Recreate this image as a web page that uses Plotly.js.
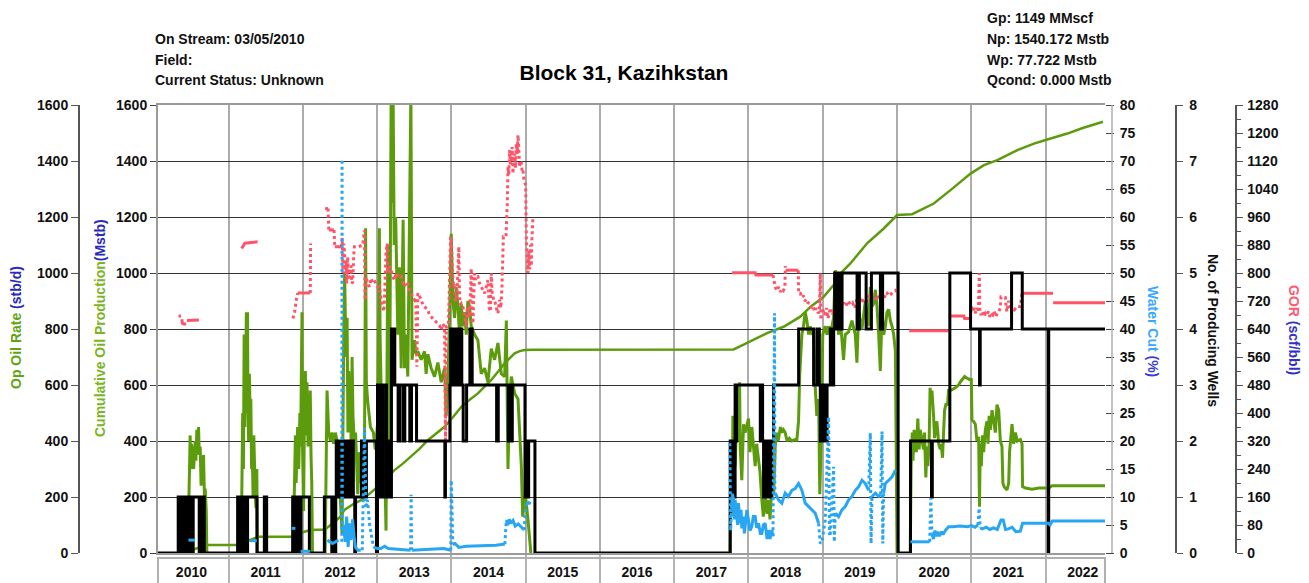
<!DOCTYPE html>
<html>
<head>
<meta charset="utf-8">
<script src="https://cdn.plot.ly/plotly-3.0.1.min.js"></script>
<style>html,body{margin:0;padding:0;background:#fff;}#chart{width:1309px;height:583px;}</style>
</head>
<body>
<div id="chart"></div>
<script>
// ---------------- DATA (decimal years) ----------------
const yearLabels = ['2010','2011','2012','2013','2014','2015','2016','2017','2018','2019','2020','2021','2022'];
const yearStarts = [2011,2012,2013,2014,2015,2016,2017,2018,2019,2020,2021,2022];
const yearMids = [2010.5,2011.5,2012.5,2013.5,2014.5,2015.5,2016.5,2017.5,2018.5,2019.5,2020.5,2021.5,2022.5];

// Oil rate, stb/d
const oilRate = [
[2010.452,0],[2010.46,150],[2010.47,250],[2010.483,420],[2010.49,300],[2010.50,390],[2010.51,330],[2010.52,380],[2010.53,300],[2010.54,370],[2010.55,400],[2010.56,330],[2010.573,440],[2010.58,360],[2010.596,450],[2010.605,350],[2010.618,380],[2010.63,240],[2010.64,330],[2010.65,250],[2010.663,350],[2010.675,200],[2010.685,230],[2010.70,150],[2010.708,0],[2010.709,null],
[2011.17,0],[2011.18,250],[2011.19,500],[2011.20,300],[2011.21,780],[2011.22,450],[2011.23,640],[2011.24,860],[2011.25,500],[2011.255,860],[2011.26,600],[2011.27,400],[2011.28,640],[2011.29,500],[2011.30,550],[2011.31,300],[2011.32,350],[2011.33,200],[2011.34,420],[2011.36,200],[2011.37,160],[2011.38,300],[2011.39,0],[2011.391,null],
[2011.87,0],[2011.88,200],[2011.90,420],[2011.91,250],[2011.92,380],[2011.93,450],[2011.945,300],[2011.96,500],[2011.97,380],[2011.98,700],[2011.989,860],[2011.995,400],[2012.0,300],[2012.01,150],[2012.02,450],[2012.034,650],[2012.045,420],[2012.056,610],[2012.07,380],[2012.08,550],[2012.095,430],[2012.10,580],[2012.11,350],[2012.12,250],[2012.13,0],[2012.131,null],
[2012.30,0],[2012.326,580],[2012.348,430],[2012.371,400],[2012.393,430],[2012.416,390],[2012.438,430],[2012.461,400],[2012.483,370],[2012.506,190],[2012.528,70],[2012.551,780],[2012.563,1000],[2012.58,700],[2012.596,840],[2012.607,430],[2012.618,650],[2012.630,480],[2012.640,550],[2012.652,370],[2012.663,700],[2012.675,490],[2012.694,390],[2012.71,430],[2012.739,210],[2012.76,360],[2012.784,250],[2012.81,380],[2012.829,310],[2012.845,1160],[2012.855,610],[2012.874,540],[2012.91,450],[2012.95,430],[2012.975,370],[2013.009,470],[2013.03,1160],[2013.04,780],[2013.065,430],[2013.085,550],[2013.12,80],[2013.144,1100],[2013.165,300],[2013.189,1650],[2013.20,1250],[2013.215,1650],[2013.23,1100],[2013.25,1200],[2013.279,780],[2013.30,1020],[2013.324,660],[2013.35,1190],[2013.369,660],[2013.39,780],[2013.40,720],[2013.413,630],[2013.455,1650],[2013.47,690],[2013.503,760],[2013.525,710],[2013.548,720],[2013.593,690],[2013.638,720],[2013.66,640],[2013.683,710],[2013.728,660],[2013.773,630],[2013.818,680],[2013.863,610],[2013.908,660],[2013.93,490],[2013.953,610],[2013.975,840],[2013.998,1140],[2014.02,900],[2014.043,840],[2014.065,950],[2014.088,880],[2014.11,780],[2014.133,890],[2014.155,810],[2014.178,860],[2014.20,780],[2014.222,900],[2014.245,880],[2014.267,810],[2014.312,780],[2014.357,760],[2014.402,640],[2014.447,660],[2014.492,610],[2014.537,730],[2014.582,690],[2014.627,750],[2014.672,640],[2014.717,630],[2014.74,830],[2014.75,610],[2014.762,300],[2014.785,550],[2014.807,630],[2014.852,570],[2014.897,550],[2014.942,310],[2014.96,130],[2014.987,190],[2015.0,200],[2015.031,120],[2015.07,0],[2015.071,null],
[2017.750,0],[2017.765,400],[2017.78,130],[2017.79,490],[2017.82,310],[2017.843,510],[2017.865,400],[2017.88,610],[2017.89,370],[2017.91,260],[2017.933,460],[2017.955,430],[2018.0,480],[2018.02,360],[2018.045,450],[2018.07,370],[2018.09,310],[2018.11,390],[2018.135,320],[2018.155,290],[2018.18,190],[2018.20,130],[2018.225,210],[2018.25,140],[2018.27,190],[2018.29,120],[2018.315,250],[2018.34,210],[2018.36,380],[2018.38,430],[2018.40,400],[2018.43,450],[2018.449,430],[2018.47,440],[2018.494,430],[2018.52,400],[2018.55,410],[2018.584,400],[2018.629,405],[2018.65,400],[2018.674,470],[2018.69,640],[2018.719,780],[2018.74,810],[2018.764,860],[2018.786,830],[2018.809,780],[2018.83,810],[2018.854,780],[2018.877,790],[2018.899,590],[2018.92,490],[2018.944,550],[2018.96,210],[2018.975,360],[2018.99,550],[2019.0,780],[2019.034,810],[2019.057,780],[2019.079,810],[2019.10,780],[2019.124,810],[2019.146,840],[2019.169,1010],[2019.19,880],[2019.213,780],[2019.235,840],[2019.258,760],[2019.28,690],[2019.303,780],[2019.348,790],[2019.393,830],[2019.438,780],[2019.46,680],[2019.483,860],[2019.528,800],[2019.573,900],[2019.618,810],[2019.64,950],[2019.663,880],[2019.685,890],[2019.708,940],[2019.73,880],[2019.753,780],[2019.775,650],[2019.798,860],[2019.82,780],[2019.843,810],[2019.865,860],[2019.888,870],[2019.91,830],[2019.933,810],[2019.955,780],[2019.978,720],[2020.0,0],[2020.001,null],
[2020.178,0],[2020.19,310],[2020.205,430],[2020.215,330],[2020.23,440],[2020.245,400],[2020.26,360],[2020.28,480],[2020.298,370],[2020.312,440],[2020.335,400],[2020.357,370],[2020.37,430],[2020.388,270],[2020.402,380],[2020.415,310],[2020.432,390],[2020.445,590],[2020.46,550],[2020.47,580],[2020.492,490],[2020.505,410],[2020.522,450],[2020.537,470],[2020.55,430],[2020.56,390],[2020.582,370],[2020.595,390],[2020.612,340],[2020.627,430],[2020.64,510],[2020.658,530],[2020.68,530],[2020.694,580],[2020.72,580],[2020.784,590],[2020.829,600],[2020.85,610],[2020.874,620],[2020.91,630],[2020.94,625],[2020.975,620],[2021.0,620],[2021.009,475],[2021.031,470],[2021.054,460],[2021.076,400],[2021.099,415],[2021.11,165],[2021.121,390],[2021.135,310],[2021.15,420],[2021.166,360],[2021.189,440],[2021.211,470],[2021.225,390],[2021.24,490],[2021.256,440],[2021.279,510],[2021.301,460],[2021.324,430],[2021.346,530],[2021.369,510],[2021.391,400],[2021.413,380],[2021.425,250],[2021.445,235],[2021.481,225],[2021.503,250],[2021.515,360],[2021.535,430],[2021.548,460],[2021.57,390],[2021.593,430],[2021.62,400],[2021.661,405],[2021.683,390],[2021.69,237],[2021.728,232],[2021.818,228],[2021.908,232],[2022.0,232],[2022.043,232],[2022.088,240],[2022.357,240],[2022.80,240]
];

// Cumulative oil, Mstb
const cumOil = [
[2010.45,5],[2010.55,15],[2010.70,29],[2011.17,29],[2011.25,42],[2011.40,58],[2011.87,58],[2011.95,70],[2012.10,82],[2012.30,84],[2012.40,106],[2012.50,128],[2012.56,154],[2012.68,175],[2012.784,189],[2012.90,212],[2013.009,237],[2013.144,273],[2013.234,296],[2013.35,320],[2013.458,344],[2013.57,372],[2013.683,403],[2013.80,428],[2013.908,451],[2014.02,485],[2014.133,522],[2014.25,548],[2014.357,570],[2014.45,595],[2014.537,618],[2014.63,648],[2014.717,677],[2014.79,697],[2014.852,713],[2014.92,721],[2014.987,725],[2015.10,726],[2017.799,727],[2017.934,744],[2018.10,765],[2018.249,785],[2018.473,808],[2018.698,844],[2018.833,879],[2019.012,915],[2019.147,957],[2019.237,998],[2019.372,1034],[2019.48,1070],[2019.597,1106],[2019.821,1159],[2020.001,1207],[2020.203,1210],[2020.495,1248],[2020.72,1296],[2020.99,1355],[2021.17,1385],[2021.35,1403],[2021.62,1439],[2021.843,1462],[2022.023,1477],[2022.293,1498],[2022.50,1518],[2022.773,1540]
];

// Number of producing wells (step data)
const wells = [
[2010.05,0],[2010.30,0],
[2010.322,1],[2010.33,0],[2010.34,1],[2010.35,0],[2010.36,1],[2010.37,0],[2010.38,1],[2010.39,0],[2010.40,1],[2010.41,0],[2010.42,1],[2010.43,0],[2010.44,1],[2010.45,0],[2010.46,1],
[2010.492,0],[2010.524,1],
[2010.605,0],[2010.615,1],[2010.625,0],[2010.635,1],[2010.645,0],[2010.655,1],[2010.673,0],
[2011.122,1],[2011.149,0],[2011.189,1],[2011.20,0],[2011.21,1],[2011.22,0],[2011.23,1],[2011.24,0],[2011.256,1],
[2011.382,0],[2011.482,1],[2011.513,0],
[2011.863,1],[2011.875,0],[2011.89,1],[2011.90,0],[2011.915,1],[2011.93,0],[2011.945,1],[2011.96,0],[2011.975,1],
[2012.088,0],[2012.29,1],[2012.39,0],[2012.41,1],[2012.43,0],[2012.443,1],
[2012.45,2],[2012.46,1],[2012.47,2],[2012.48,1],[2012.49,2],[2012.50,1],[2012.51,2],[2012.52,1],[2012.53,2],[2012.54,1],[2012.55,2],[2012.56,1],[2012.57,2],[2012.58,1],[2012.59,2],[2012.60,1],[2012.61,2],[2012.62,1],[2012.63,2],[2012.64,1],[2012.65,2],[2012.66,1],[2012.67,2],[2012.68,1],
[2012.699,0],[2012.71,1],
[2012.789,2],[2012.80,1],[2012.81,2],[2012.82,1],[2012.83,2],[2012.84,1],[2012.856,2],
[2012.991,0],[2013.005,3],[2013.015,1],[2013.025,3],[2013.035,1],[2013.045,3],[2013.055,2],[2013.065,3],[2013.075,1],[2013.085,3],
[2013.126,1],[2013.135,2],[2013.145,1],[2013.155,2],[2013.165,1],[2013.175,2],[2013.185,1],
[2013.193,4],[2013.20,3],[2013.21,4],[2013.22,3],[2013.23,4],[2013.238,3],
[2013.283,2],[2013.305,3],[2013.35,2],[2013.373,3],[2013.44,2],[2013.463,3],[2013.531,2],
[2013.912,1],[2013.92,2],[2013.98,3],[2013.99,4],[2014.0,3],[2014.01,4],[2014.02,3],[2014.03,4],[2014.04,3],[2014.05,4],[2014.06,3],
[2014.09,4],[2014.10,3],[2014.11,4],[2014.12,3],[2014.13,4],[2014.14,3],
[2014.159,2],[2014.205,3],[2014.249,4],[2014.26,3],[2014.27,4],[2014.28,3],
[2014.609,2],[2014.631,3],[2014.766,2],[2014.78,3],[2014.79,2],[2014.80,3],[2014.81,2],[2014.82,3],
[2014.991,1],[2015.0,2],[2015.01,1],[2015.02,2],[2015.03,1],[2015.04,2],
[2015.125,0],
[2017.754,2],[2017.77,1],[2017.78,2],[2017.79,1],[2017.80,2],[2017.81,1],[2017.82,3],[2017.83,2],[2017.84,3],
[2018.159,2],[2018.175,3],[2018.19,2],
[2018.203,1],[2018.215,2],[2018.225,1],[2018.235,2],[2018.245,1],[2018.255,2],[2018.265,1],[2018.275,2],[2018.285,1],[2018.295,2],[2018.305,1],[2018.315,2],
[2018.338,3],[2018.675,4],[2018.877,3],[2018.923,4],[2018.954,3],
[2018.967,2],[2018.977,3],[2018.987,2],[2018.997,3],[2019.007,2],[2019.017,3],[2019.027,2],[2019.037,3],[2019.047,2],[2019.058,3],
[2019.102,4],[2019.112,3],[2019.122,4],[2019.132,3],[2019.147,4],
[2019.16,5],[2019.17,4],[2019.18,5],[2019.19,4],[2019.20,5],[2019.21,4],[2019.22,5],[2019.23,4],[2019.24,5],[2019.25,4],[2019.26,5],
[2019.462,4],[2019.493,5],[2019.584,4],[2019.655,5],
[2019.776,4],[2019.786,5],[2019.796,4],[2019.806,5],
[2020.015,0],[2020.181,2],[2020.464,1],[2020.475,2],[2020.711,5],[2020.99,4],[2021.111,3],[2021.12,4],[2021.542,5],[2021.686,4],[2022.037,0],[2022.042,4],[2022.80,4]
];

// Water cut, % (continuous parts)
const waterCut = [
[2010.46,2.3],[2010.55,2.3],[2010.551,null],
[2011.29,2.2],[2011.38,2.2],[2011.381,null],
[2011.85,4.4],[2011.90,4.4],[2011.901,null],
[2011.97,0.3],[2012.10,0.3],[2012.101,null],
[2012.33,2.3],[2012.40,1.7],[2012.48,2.3],[2012.481,null],
[2012.54,4],[2012.55,5],[2012.57,2],[2012.59,6.5],[2012.61,1.1],[2012.63,5.3],[2012.65,2.3],[2012.67,6],[2012.69,3],[2012.71,1],[2012.74,0.5],[2012.78,0.5],[2012.781,null],
[2012.95,1.1],[2013.0,0.8],[2013.05,0.8],[2013.10,1.2],[2013.15,0.8],[2013.30,0.6],[2013.45,0.5],[2013.451,null],
[2013.47,0.5],[2013.70,0.6],[2013.90,0.8],[2013.99,0.5],[2013.991,null],
[2014.02,1.5],[2014.05,1.7],[2014.10,1.0],[2014.20,1.2],[2014.40,1.3],[2014.60,1.4],[2014.72,1.6],[2014.721,null],
[2014.74,5.9],[2014.76,5.0],[2014.78,6.0],[2014.80,5.3],[2014.83,5.8],[2014.86,4.8],[2014.90,5.2],[2014.94,4.6],[2014.98,4.1],[2014.981,null],
[2015.0,8.5],[2015.04,9.0],[2015.07,8.8],[2015.071,null],
[2017.77,8],[2017.785,10.6],[2017.798,9.5],[2017.81,6],[2017.82,9.5],[2017.843,7.1],[2017.855,5],[2017.865,8.9],[2017.888,5.3],[2017.90,7.7],[2017.91,4.4],[2017.933,6.5],[2017.945,3.5],[2017.955,4.7],[2017.978,7.7],[2018.0,5.9],[2018.02,4],[2018.045,4.7],[2018.065,6.5],[2018.09,6.5],[2018.11,4.5],[2018.135,5.3],[2018.16,3.5],[2018.18,3.5],[2018.20,5],[2018.225,5.3],[2018.25,2.5],[2018.27,4.1],[2018.29,2.5],[2018.315,4.1],[2018.33,3.0],[2018.331,null],
[2018.36,10.7],[2018.404,9.5],[2018.449,8.9],[2018.494,10.7],[2018.539,10.1],[2018.584,11.2],[2018.629,11.5],[2018.674,12.4],[2018.697,11.8],[2018.719,11.2],[2018.764,8.9],[2018.809,8.3],[2018.854,7.7],[2018.899,7.1],[2018.944,5.3],[2018.945,null],
[2019.169,7.1],[2019.213,6.5],[2019.258,7.7],[2019.303,8.3],[2019.348,9.5],[2019.393,10.1],[2019.438,11.2],[2019.483,11.8],[2019.528,13.0],[2019.573,12.4],[2019.618,11.2],[2019.619,null],
[2019.663,10.1],[2019.708,10.7],[2019.753,10.1],[2019.78,10.5],[2019.781,null],
[2019.820,10.7],[2019.843,12.4],[2019.888,13.0],[2019.933,13.6],[2019.978,14.8],[2019.979,null],
[2020.18,2.0],[2020.30,2.0],[2020.44,2.0],[2020.441,null],
[2020.47,3.5],[2020.49,2.5],[2020.51,4.0],[2020.53,3.0],[2020.55,3.8],[2020.57,3.0],[2020.60,3.8],[2020.62,3.3],[2020.65,4.0],[2020.694,4.7],[2020.75,4.7],[2020.85,4.8],[2020.95,4.7],[2021.0,4.9],[2021.05,4.6],[2021.09,5.0],[2021.091,null],
[2021.12,4.5],[2021.15,4.3],[2021.20,4.6],[2021.25,4.2],[2021.30,4.5],[2021.35,4.2],[2021.40,5.9],[2021.43,5.9],[2021.46,4.2],[2021.50,4.3],[2021.55,4.6],[2021.60,3.8],[2021.66,3.9],[2021.69,5.3],[2021.80,5.3],[2022.04,5.3],[2022.06,5.0],[2022.09,5.7],[2022.40,5.7],[2022.80,5.7]
];
// Water cut, % (dotted jumps)
const waterCutJumps = [
[2012.525,2],[2012.528,70.3],[2012.532,3],[2012.533,null],
[2012.80,0.5],[2012.83,22.3],[2012.85,8],[2012.87,9.5],[2012.90,5],[2012.95,1.1],[2012.951,null],
[2013.451,0.5],[2013.458,10.4],[2013.465,0.5],[2013.466,null],
[2013.991,0.5],[2013.998,13.0],[2014.02,1.5],[2014.021,null],
[2014.72,1.6],[2014.74,5.9],[2014.741,null],
[2014.98,4.1],[2015.0,8.5],[2015.001,null],
[2017.75,19.6],[2017.76,4],[2017.77,8],[2017.771,null],
[2018.33,3.0],[2018.351,42.8],[2018.355,10],[2018.36,10.7],[2018.361,null],
[2018.944,5.3],[2018.966,1.7],[2018.989,2],[2019.011,4.1],[2019.034,5.9],[2019.079,24.3],[2019.09,3.5],[2019.101,3.5],[2019.124,9.5],[2019.146,15.4],[2019.155,2],[2019.169,7.1],[2019.17,null],
[2019.618,11.2],[2019.640,21.4],[2019.650,1.7],[2019.663,10.1],[2019.664,null],
[2019.78,10.5],[2019.798,21.7],[2019.808,1.7],[2019.820,10.7],[2019.821,null],
[2020.44,2.0],[2020.455,9.8],[2020.47,3.5],[2020.471,null],
[2021.09,5.0],[2021.105,8.0],[2021.12,4.5]
];

// GOR, scf/bbl (continuous parts)
const gor = [
[2010.326,677],[2010.36,677],[2010.361,null],
[2010.37,668],[2010.38,656],[2010.40,654],[2010.43,654],[2010.431,null],
[2010.44,664],[2010.60,666],[2010.601,null],
[2011.176,870],[2011.20,878],[2011.22,885],[2011.391,889],[2011.392,null],
[2011.93,743],[2012.10,743],[2012.101,null],
[2012.30,984],[2012.34,984],[2012.341,null],
[2012.35,923],[2012.42,923],[2012.421,null],
[2012.43,875],[2012.52,875],[2012.521,null],
[2017.777,801],[2018.09,801],[2018.10,794],[2018.33,794],[2018.331,null],
[2018.50,808],[2018.67,808],[2018.671,null],
[2020.164,635],[2020.694,635],[2020.6941,null],
[2020.695,677],[2020.90,677],[2020.91,670],[2020.987,670],[2020.988,null],
[2021.683,742],[2022.10,742],[2022.101,null],
[2022.102,715],[2022.80,715]
];
// GOR, scf/bbl (dotted / scattered parts)
const gorScatter = [
[2011.867,670],[2011.89,690],[2011.91,720],[2011.93,743],[2011.931,null],
[2012.10,743],[2012.105,884],[2012.106,null],
[2012.34,984],[2012.35,923],[2012.351,null],[2012.42,923],[2012.43,875],[2012.431,null],
[2012.52,875],[2012.53,900],[2012.54,800],[2012.55,884],[2012.56,865],[2012.57,799],[2012.582,830],[2012.59,770],[2012.604,846],[2012.615,790],[2012.627,780],[2012.64,820],[2012.649,818],[2012.66,770],[2012.672,775],[2012.685,850],[2012.694,875],[2012.75,875],[2012.807,880],[2012.829,922],[2012.838,723],[2012.852,789],[2012.87,770],[2012.897,761],[2012.92,785],[2012.942,770],[2012.97,775],[2013.009,760],[2013.031,761],[2013.054,723],[2013.076,704],[2013.09,690],[2013.099,720],[2013.12,860],[2013.135,884],[2013.15,800],[2013.166,820],[2013.189,808],[2013.21,790],[2013.234,780],[2013.255,800],[2013.279,790],[2013.30,785],[2013.324,789],[2013.35,770],[2013.369,761],[2013.39,775],[2013.413,770],[2013.44,745],[2013.458,742],[2013.48,730],[2013.503,723],[2013.52,730],[2013.535,532],[2013.548,742],[2013.57,735],[2013.593,723],[2013.615,710],[2013.638,704],[2013.66,700],[2013.683,694],[2013.705,680],[2013.728,675],[2013.75,670],[2013.773,665],[2013.795,660],[2013.818,656],[2013.84,650],[2013.863,637],[2013.885,655],[2013.908,646],[2013.921,323],[2013.930,646],[2013.96,650],[2013.989,900],[2013.998,904],[2014.01,820],[2014.02,799],[2014.03,760],[2014.043,770],[2014.055,720],[2014.065,723],[2014.08,760],[2014.10,875],[2014.11,733],[2014.122,710],[2014.133,713],[2014.155,704],[2014.17,690],[2014.178,675],[2014.19,660],[2014.20,646],[2014.21,690],[2014.222,704],[2014.235,680],[2014.245,675],[2014.26,760],[2014.267,813],[2014.28,700],[2014.29,656],[2014.312,799],[2014.325,780],[2014.335,790],[2014.357,790],[2014.38,770],[2014.402,761],[2014.425,750],[2014.447,742],[2014.47,760],[2014.492,780],[2014.51,700],[2014.525,690],[2014.537,799],[2014.55,740],[2014.57,723],[2014.582,723],[2014.605,700],[2014.627,685],[2014.649,723],[2014.665,700],[2014.681,760],[2014.70,904],[2014.717,904],[2014.735,904],[2014.753,1000],[2014.762,1103],[2014.773,1080],[2014.784,1151],[2014.795,1110],[2014.807,1122],[2014.818,1160],[2014.829,1084],[2014.84,1130],[2014.852,1141],[2014.863,1100],[2014.874,1170],[2014.885,1140],[2014.897,1194],[2014.908,1150],[2014.919,1103],[2014.93,1120],[2014.942,1113],[2014.953,1090],[2014.964,1094],[2014.975,1070],[2014.987,1056],[2015.0,1050],[2015.009,900],[2015.02,820],[2015.031,800],[2015.042,865],[2015.054,810],[2015.065,880],[2015.076,820],[2015.085,900],[2015.092,961],[2015.099,961],[2015.1,null],
[2018.33,794],[2018.34,780],[2018.36,760],[2018.38,750],[2018.406,760],[2018.43,746],[2018.45,755],[2018.47,750],[2018.49,760],[2018.496,820],[2018.50,808],[2018.501,null],
[2018.67,808],[2018.675,742],[2018.698,742],[2018.72,730],[2018.74,735],[2018.76,720],[2018.78,725],[2018.80,715],[2018.833,713],[2018.85,700],[2018.87,705],[2018.89,690],[2018.91,700],[2018.94,685],[2018.955,690],[2018.967,799],[2018.975,666],[2018.99,700],[2019.01,690],[2019.03,680],[2019.05,700],[2019.07,670],[2019.09,690],[2019.11,700],[2019.13,680],[2019.15,690],[2019.17,704],[2019.192,700],[2019.22,720],[2019.25,700],[2019.28,715],[2019.31,705],[2019.34,720],[2019.372,710],[2019.40,715],[2019.43,700],[2019.46,725],[2019.49,710],[2019.52,730],[2019.55,715],[2019.597,720],[2019.62,735],[2019.65,720],[2019.68,740],[2019.71,725],[2019.74,735],[2019.776,720],[2019.80,742],[2019.83,730],[2019.86,745],[2019.89,735],[2019.92,740],[2019.95,745],[2019.98,750],[2020.001,746],[2020.002,null],
[2020.987,670],[2021.0,704],[2021.02,690],[2021.04,700],[2021.06,685],[2021.076,700],[2021.095,690],[2021.108,799],[2021.115,690],[2021.13,680],[2021.15,690],[2021.17,675],[2021.19,685],[2021.21,680],[2021.23,690],[2021.25,675],[2021.27,685],[2021.29,680],[2021.31,690],[2021.33,675],[2021.35,685],[2021.37,690],[2021.39,700],[2021.40,732],[2021.413,732],[2021.44,732],[2021.458,730],[2021.47,700],[2021.48,690],[2021.50,720],[2021.52,700],[2021.54,690],[2021.56,700],[2021.58,695],[2021.60,700],[2021.62,705],[2021.638,704],[2021.66,704],[2021.683,742]
];

const headerLeft = ['On Stream: 03/05/2010','Field:','Current Status: Unknown'];
const headerRight = ['Gp: 1149 MMscf','Np: 1540.172 Mstb','Wp: 77.722 Mstb','Qcond: 0.000 Mstb'];
const chartTitle = 'Block 31, Kazihkstan';

// ---------------- COLOURS ----------------
const GREEN = '#5c9c0c', BLUE = '#27a6f4', RED = '#ff5468', BLACK = '#000000';

const xs = a => a.map(p => p[0]);
const ys = a => a.map(p => p[1]);

const traces = [
  {x: xs(oilRate), y: ys(oilRate), yaxis: 'y', mode: 'lines', line: {color: GREEN, width: 3}, connectgaps: false},
  {x: xs(cumOil), y: ys(cumOil), yaxis: 'y2', mode: 'lines', line: {color: GREEN, width: 2.5}},
  {x: xs(gor), y: ys(gor), yaxis: 'y3', mode: 'lines', line: {color: RED, width: 3}, connectgaps: false},
  {x: xs(gorScatter), y: ys(gorScatter), yaxis: 'y3', mode: 'lines', line: {color: RED, width: 3, dash: 'dot'}, connectgaps: false},
  {x: xs(wells), y: ys(wells), yaxis: 'y4', mode: 'lines', line: {color: BLACK, width: 3, shape: 'hv'}},
  {x: xs(waterCut), y: ys(waterCut), yaxis: 'y5', mode: 'lines', line: {color: BLUE, width: 3}, connectgaps: false},
  {x: xs(waterCutJumps), y: ys(waterCutJumps), yaxis: 'y5', mode: 'lines', line: {color: BLUE, width: 3, dash: 'dot'}, connectgaps: false}
];

const W = 1309, H = 583;
const px = v => v / W, py = v => 1 - v / H;
const FONT = 'Liberation Sans, Arial, Helvetica, sans-serif';
const tickFont = {family: FONT, size: 14, color: '#111', weight: 'bold'};
const dom = [30 / H, 478 / H];

const common = {zeroline: false, automargin: false, fixedrange: true, tickfont: tickFont};

const layout = {
  width: W, height: H,
  margin: {l: 0, r: 0, t: 0, b: 0},
  paper_bgcolor: '#ffffff', plot_bgcolor: '#ffffff',
  showlegend: false,
  font: {family: FONT, color: '#111'},
  title: {text: chartTitle, x: px(624), y: py(73), xanchor: 'center', yanchor: 'middle', xref: 'paper', yref: 'paper',
          font: {family: FONT, size: 21, color: '#000', weight: 'bold'}},
  xaxis: Object.assign({}, common, {
    domain: [158 / W, 1105 / W], range: [2010.05, 2022.80],
    tickmode: 'array', tickvals: yearMids, ticktext: yearLabels, ticks: '', showgrid: false,
    ticklabelstandoff: 5,
    showline: true, mirror: true, linecolor: '#9a9a9a', linewidth: 2,
    tickfont: {family: FONT, size: 14, color: '#111', weight: 'bold'},
    minor: {tickmode: 'array', tickvals: yearStarts, showgrid: true, gridcolor: '#acacac', gridwidth: 2,
            ticks: 'outside', ticklen: 30, tickcolor: '#b4b4b4', tickwidth: 2}
  }),
  yaxis: Object.assign({}, common, {
    domain: dom, range: [0, 1600], tickmode: 'linear', tick0: 0, dtick: 200,
    showgrid: true, gridcolor: '#333333', gridwidth: 1,
    ticks: 'outside', ticklen: 6, tickcolor: '#444', anchor: 'x', side: 'left',
    showline: true, linecolor: '#9a9a9a', linewidth: 2
  }),
  yaxis2: Object.assign({}, common, {
    domain: dom, range: [0, 1600], tickmode: 'linear', tick0: 0, dtick: 200, overlaying: 'y',
    anchor: 'free', position: 78 / W, side: 'left', showgrid: false,
    ticks: 'outside', ticklen: 7, tickcolor: '#555', showline: true, linecolor: '#555', linewidth: 1.5
  }),
  yaxis3: Object.assign({}, common, {
    domain: dom, range: [0, 1280], tickmode: 'linear', tick0: 0, dtick: 80, overlaying: 'y',
    anchor: 'free', position: 1235 / W, side: 'right', showgrid: false,
    ticks: 'outside', ticklen: 6, tickcolor: '#555', showline: true, linecolor: '#555', linewidth: 1.5,
    ticklabelstandoff: 2,
    minor: {tick0: 0, dtick: 40, ticks: 'outside', ticklen: 4, tickcolor: '#555', showgrid: false}
  }),
  yaxis4: Object.assign({}, common, {
    domain: dom, range: [0, 8], tickmode: 'linear', tick0: 0, dtick: 1, overlaying: 'y',
    anchor: 'free', position: 1175 / W, side: 'right', showgrid: false,
    ticks: 'outside', ticklen: 6, tickcolor: '#555', showline: true, linecolor: '#555', linewidth: 1.5,
    ticklabelstandoff: 4
  }),
  yaxis5: Object.assign({}, common, {
    domain: dom, range: [0, 80], tickmode: 'linear', tick0: 0, dtick: 5, overlaying: 'y',
    anchor: 'x', side: 'right', showgrid: false,
    ticks: 'outside', ticklen: 8, tickcolor: '#444', showline: false, ticklabelstandoff: 3
  }),
  shapes: [
    {type: 'rect', xref: 'paper', yref: 'paper', x0: 158 / W, x1: 1105 / W, y0: -0.02, y1: py(558),
     line: {color: '#b0b0b0', width: 2}, fillcolor: 'rgba(0,0,0,0)'},
    {type: 'line', xref: 'paper', yref: 'paper', x0: 1112 / W, x1: 1112 / W, y0: py(553), y1: py(105),
     line: {color: '#b0b0b0', width: 1.5}}
  ],
  annotations: []
};

const ann = layout.annotations;
const hdrFont = {family: FONT, size: 14, color: '#111', weight: 'bold'};
const leftRows = [39, 60, 80];
headerLeft.forEach((t, i) => ann.push({text: t, x: px(153), y: py(leftRows[i]), xref: 'paper', yref: 'paper',
  xanchor: 'left', yanchor: 'middle', showarrow: false, font: hdrFont}));
const rightRows = [18, 39, 60, 80];
headerRight.forEach((t, i) => ann.push({text: t, x: px(985), y: py(rightRows[i]), xref: 'paper', yref: 'paper',
  xanchor: 'left', yanchor: 'middle', showarrow: false, font: hdrFont}));

const titleFont = {family: FONT, size: 14, weight: 'bold', color: '#111'};
function axTitle(html, xPix, yPix, angle) {
  ann.push({text: html, x: px(xPix), y: py(yPix), xref: 'paper', yref: 'paper', xanchor: 'center', yanchor: 'middle',
    textangle: angle, showarrow: false, font: titleFont});
}
axTitle('<span style="color:#5fa513">Op Oil Rate </span><span style="color:#2a2ab8">(stb/d)</span>', 16, 328, -90);
axTitle('<span style="color:#7ab41e">Cumulative Oil Production</span><span style="color:#2a2ab8">(Mstb)</span>', 100, 328, -90);
axTitle('<span style="color:#38a8ff">Water Cut </span><span style="color:#3b3bd0">(%)</span>', 1153, 331, 90);
axTitle('<span style="color:#111">No. of Producing Wells</span>', 1213, 330, 90);
axTitle('<span style="color:#ff5a70">GOR </span><span style="color:#3030c8">(scf/bbl)</span>', 1294, 330, 90);

Plotly.newPlot('chart', traces, layout, {staticPlot: true, displayModeBar: false});
</script>
</body>
</html>
